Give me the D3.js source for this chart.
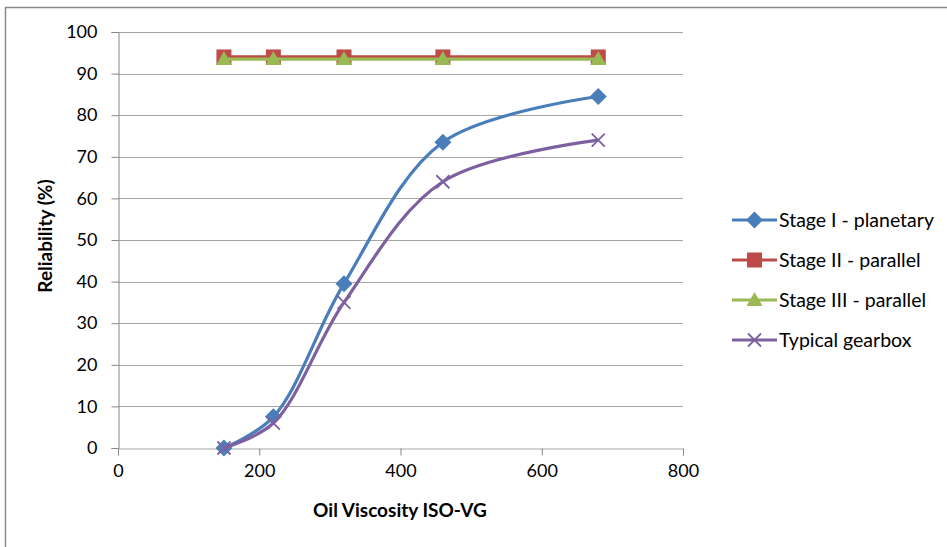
<!DOCTYPE html>
<html>
<head>
<meta charset="utf-8">
<script src="https://cdn.jsdelivr.net/npm/d3@7"></script>
<style>
  html, body { margin: 0; padding: 0; background: #fff; }
  svg { display: block; }
  text { font-family: Lato, "Liberation Sans", sans-serif; fill: #000; }
</style>
</head>
<body>
<svg id="chart" width="947" height="547"></svg>
<script>
// ---- data ----
const viscosity = [150, 220, 320, 460, 680];
const stage1 = [0, 7.5, 39.5, 73.5, 84.5];
const stage2 = [94, 94, 94, 94, 94];
const stage3 = [93.5, 93.5, 93.5, 93.5, 93.5];
const typical = [0, 6, 35, 64, 74];
const seriesNames = ["Stage I - planetary", "Stage II - parallel", "Stage III - parallel", "Typical gearbox"];
const xTicks = [0, 200, 400, 600, 800];
const yTicks = [0, 10, 20, 30, 40, 50, 60, 70, 80, 90, 100];

const colors = ["#4A7EBB", "#BE4B48", "#98B954", "#7D60A0"];
const symbols = ["diamond", "square", "triangle", "x"];

const svg = d3.select("#chart");
const plot = { left: 118, right: 683, top: 32, bottom: 448 };

// outer frame
svg.append("rect").attr("x", 5.5).attr("y", 7.5).attr("width", 1000).attr("height", 1000)
  .attr("fill", "none").attr("stroke", "#888").attr("stroke-width", 1.5);

const x = d3.scaleLinear().domain([0, 800]).range([plot.left, plot.right]);
const y = d3.scaleLinear().domain([0, 100]).range([plot.bottom, plot.top]);

// gridlines
svg.append("g").selectAll("line").data(yTicks.filter(d => d > 0)).join("line")
  .attr("x1", plot.left).attr("x2", plot.right)
  .attr("y1", d => Math.round(y(d)) + 0.5).attr("y2", d => Math.round(y(d)) + 0.5)
  .attr("stroke", "#a6a6a6").attr("stroke-width", 1);

// axes
const yAxis = svg.append("g").attr("transform", `translate(${plot.left + 0.5},0)`)
  .call(d3.axisLeft(y).tickValues(yTicks).tickSize(7).tickPadding(14).tickFormat(d3.format("d")));
const xAxis = svg.append("g").attr("transform", `translate(0,${plot.bottom + 0.5})`)
  .call(d3.axisBottom(x).tickValues(xTicks).tickSize(7).tickPadding(9).tickFormat(d3.format("d")));
[yAxis, xAxis].forEach(g => {
  g.select(".domain").attr("stroke", "#888");
  g.selectAll(".tick line").attr("stroke", "#888");
  g.selectAll(".tick text").style("font-size", "18px").attr("fill", "#000");
});
xAxis.select(".domain").attr("stroke", "#a6a6a6");

// axis titles
svg.append("text").attr("x", 400).attr("y", 517).attr("text-anchor", "middle")
  .style("font-size", "19px").style("font-weight", "bold").text("Oil Viscosity ISO-VG");
svg.append("text").attr("transform", "translate(52,236) rotate(-90)").attr("text-anchor", "middle")
  .style("font-size", "19px").style("font-weight", "bold").text("Reliability (%)");

// markers
function drawMarker(g, type, color, cx, cy) {
  if (type === "diamond") {
    const r = 8.5;
    g.append("path").attr("d", `M${cx},${cy - r}L${cx + r},${cy}L${cx},${cy + r}L${cx - r},${cy}Z`).attr("fill", color);
  } else if (type === "square") {
    g.append("rect").attr("x", cx - 7.5).attr("y", cy - 7.5).attr("width", 15).attr("height", 15).attr("fill", color);
  } else if (type === "triangle") {
    g.append("path").attr("d", `M${cx},${cy - 8}L${cx + 8},${cy + 6}L${cx - 8},${cy + 6}Z`).attr("fill", color);
  } else {
    const s = 6.5;
    g.append("path").attr("d", `M${cx - s},${cy - s}L${cx + s},${cy + s}M${cx - s},${cy + s}L${cx + s},${cy - s}`)
      .attr("stroke", color).attr("stroke-width", 1.8).attr("fill", "none");
  }
}

const allSeries = [stage1, stage2, stage3, typical];
const order = [1, 2, 0, 3];
const line = d3.line().x(d => x(d[0])).y(d => y(d[1])).curve(d3.curveCatmullRom.alpha(0.5));
order.forEach(i => {
  const pts = viscosity.map((v, j) => [v, allSeries[i][j]]);
  const g = svg.append("g");
  g.append("path").attr("d", line(pts)).attr("fill", "none").attr("stroke", colors[i]).attr("stroke-width", 3.2);
  pts.forEach(p => drawMarker(g, symbols[i], colors[i], x(p[0]), y(p[1])));
});

// legend
const legendRows = [220, 260, 300, 340];
seriesNames.forEach((name, i) => {
  const g = svg.append("g");
  const cy = legendRows[i];
  g.append("line").attr("x1", 732).attr("x2", 777).attr("y1", cy).attr("y2", cy)
    .attr("stroke", colors[i]).attr("stroke-width", 3.2);
  drawMarker(g, symbols[i], colors[i], 754.5, cy);
  g.append("text").attr("x", 779).attr("y", cy).attr("dy", "0.36em")
    .style("font-size", "19.5px").text(name);
});
</script>
</body>
</html>
